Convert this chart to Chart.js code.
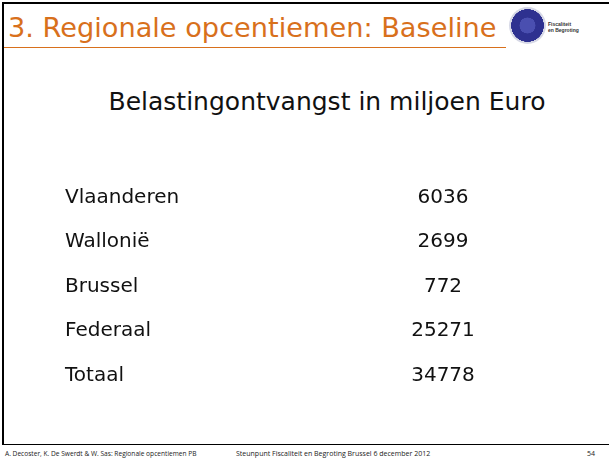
<!DOCTYPE html>
<html lang="nl">
<head>
    <meta charset="UTF-8">
    <title>Regionale opcentiemen: Baseline</title>
    <script src="https://cdn.jsdelivr.net/npm/chart.js"></script>
    <style>
        html, body { margin: 0; padding: 0; background: #fff; }
        body { width: 609px; height: 461px; position: relative; overflow: hidden; font-family: "DejaVu Sans", Verdana, sans-serif; }
        .frame-top { position: absolute; left: 2px; top: 2px; width: 607px; height: 2px; background: #000; }
        .frame-left { position: absolute; left: 2px; top: 2px; width: 2px; height: 443px; background: #000; }
        .frame-bottom { position: absolute; left: 2px; top: 444px; width: 607px; height: 1px; background: #000; }
        .title { position: absolute; left: 8px; top: 12px; font-size: 27.2px; color: #d8701c; white-space: nowrap; }
        .title-rule { position: absolute; left: 4px; top: 47px; width: 502px; height: 1px; background: #d8701c; }
        .logo { position: absolute; left: 509px; top: 7px; width: 37px; height: 37px; border-radius: 50%;
                background: radial-gradient(circle at 50% 50%, #4a4fb0 0 30%, #2e3190 31% 62%, #d6d8e6 63% 100%); }
        .logo-text { position: absolute; left: 548px; top: 21px; font-size: 5px; line-height: 6px; color: #333; font-weight: bold; font-family: "Liberation Sans", sans-serif; }
        .subtitle { position: absolute; left: 0; width: 654px; top: 87px; text-align: center; font-size: 25px; color: #111; }
        .footer { position: absolute; top: 449px; font-size: 7px; color: #222; font-family: "Open Sans", "Liberation Sans", sans-serif; white-space: nowrap; }
        .chart-box { position: absolute; left: 0; top: 175px; width: 609px; height: 223px; }
    </style>
</head>
<body>
    <div class="frame-top"></div>
    <div class="frame-left"></div>
    <div class="frame-bottom"></div>
    <div class="title">3. Regionale opcentiemen: Baseline</div>
    <div class="title-rule"></div>
    <div class="logo"></div>
    <div class="logo-text">Fiscaliteit<br>en Begroting</div>
    <div class="subtitle">Belastingontvangst in miljoen Euro</div>
    <div class="chart-box">
        <canvas id="tableChart" width="609" height="223"></canvas>
    </div>
    <div class="footer" style="left:5px;font-size:6.6px;">A. Decoster, K. De Swerdt &amp; W. Sas: Regionale opcentiemen PB</div>
    <div class="footer" style="left:236px;">Steunpunt Fiscaliteit en Begroting Brussel 6 december 2012</div>
    <div class="footer" style="left:587px;">54</div>

    <script>
        // rijen van de tabel
        const regions = ['Vlaanderen', 'Wallonië', 'Brussel', 'Federaal', 'Totaal'];
        const revenue = [6036, 2699, 772, 25271, 34778];
        // kolommen: 0 = naam, 1 = bedrag
        const columns = [0, 1];

        // tekst van de cellen tekenen op de posities van de schalen
        const cellText = {
            id: 'cellText',
            afterDatasetsDraw(chart) {
                const ctx = chart.ctx;
                const x = chart.scales.x;
                const y = chart.scales.y;
                ctx.save();
                ctx.font = '20px "DejaVu Sans", Verdana, sans-serif';
                ctx.fillStyle = '#111';
                ctx.textBaseline = 'middle';
                regions.forEach((r, i) => {
                    const py = y.getPixelForValue(i);
                    ctx.textAlign = 'left';
                    ctx.fillText(r, x.getPixelForValue(columns[0]), py);
                    ctx.textAlign = 'center';
                    ctx.fillText(String(revenue[i]), x.getPixelForValue(columns[1]), py);
                });
                ctx.restore();
            }
        };

        const ctx = document.getElementById('tableChart').getContext('2d');
        new Chart(ctx, {
            type: 'scatter',
            data: {
                labels: regions,
                datasets: [{
                    data: regions.map((r, i) => ({ x: columns[1], y: r })),
                    pointRadius: 0,
                    showLine: false
                }]
            },
            options: {
                responsive: false,
                animation: false,
                layout: { padding: { left: 65, right: 166, top: 0, bottom: 0 } },
                plugins: { legend: { display: false }, tooltip: { enabled: false } },
                scales: {
                    x: { type: 'linear', min: 0, max: 1, display: false },
                    y: { type: 'category', labels: regions, offset: true, display: false }
                }
            },
            plugins: [cellText]
        });
    </script>
</body>
</html>
